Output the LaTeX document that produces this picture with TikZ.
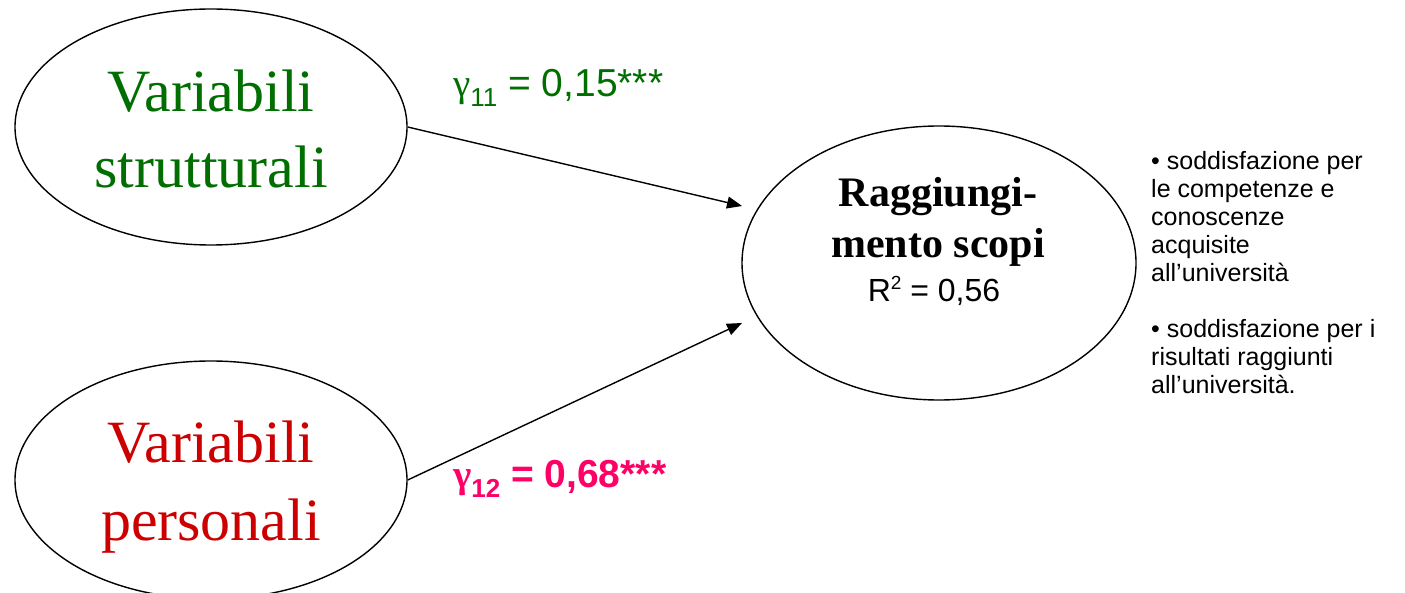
\documentclass[tikz,border=0pt]{standalone}
\usepackage{fontspec}
\setmainfont{Liberation Serif}
\setsansfont{Liberation Sans}
\usetikzlibrary{shapes.geometric,arrows.meta}
\definecolor{dgreen}{RGB}{0,110,0}
\definecolor{dred}{RGB}{204,0,0}
\definecolor{pinkred}{RGB}{255,0,102}
\tikzset{
  ell/.style={draw=black, line width=1.4pt, ellipse, inner sep=0pt},
  bigtxt/.style={font=\fontsize{60}{76}\selectfont, inner sep=0pt, anchor=base},
  goaltxt/.style={font=\bfseries\fontsize{42}{51}\selectfont, inner sep=0pt, anchor=base},
  coef/.style={font=\sffamily\fontsize{39}{42}\selectfont, inner sep=0pt, anchor=base west},
  arr/.style={line width=1.4pt, -{Triangle[length=15pt,width=12pt]}},
  note/.style={font=\sffamily\fontsize{25}{28}\selectfont, inner sep=0pt, align=left, anchor=north west}
}
\newcommand{\mysub}[1]{\raisebox{-10pt}{\fontsize{26}{26}\selectfont #1}}
\newcommand{\mygam}{{\rmfamily\fontsize{39}{42}\selectfont γ}}
\begin{document}
\begin{tikzpicture}[x=1pt,y=-1pt]
\useasboundingbox (0,0) rectangle (1405,593);
\clip (0,0) rectangle (1405,593);
\fill[white] (0,0) rectangle (1405,593);

\node[ell, minimum width=392pt, minimum height=236pt] (vs) at (211,127) {};
\node[ell, minimum width=392pt, minimum height=238pt] (vp) at (211,480) {};
\node[ell, minimum width=394pt, minimum height=274pt] (rs) at (939,263) {};

\node[bigtxt, text=dgreen] (vs1) at (211,112) {Variabili};
\node[bigtxt, text=dgreen] (vs2) at (211,188) {strutturali};
\node[bigtxt, text=dred] (vp1) at (211,462) {Variabili};
\node[bigtxt, text=dred] (vp2) at (211,540) {personali};

\node[goaltxt] (rs1) at (938,207) {Raggiungi-};
\node[goaltxt] (rs2) at (938,258) {mento scopi};
\node[font=\sffamily\fontsize{32}{36}\selectfont, inner sep=0pt, anchor=base] (r2) at (934,302) {R\raisebox{12pt}{\fontsize{19}{19}\selectfont 2} = 0,56};

\coordinate (t1) at (742,206);
\coordinate (t2) at (742,323);
\draw[arr] (vs.east) -- (t1);
\draw[arr] (vp.east) -- (t2);

\node[coef, text=dgreen] (g11) at (453,97) {\mygam\mysub{11} = 0,15***};
\node[coef, text=pinkred, font=\sffamily\bfseries\fontsize{39}{42}\selectfont] (g12) at (453,487) {{\bfseries\mygam}\mysub{\bfseries 12} = 0,68***};

\node[note] (list) at (1151,151) {• soddisfazione per\\le competenze e\\conoscenze\\acquisite\\all’università\\[28pt]• soddisfazione per i\\risultati raggiunti\\all’università.};
\end{tikzpicture}
\end{document}
